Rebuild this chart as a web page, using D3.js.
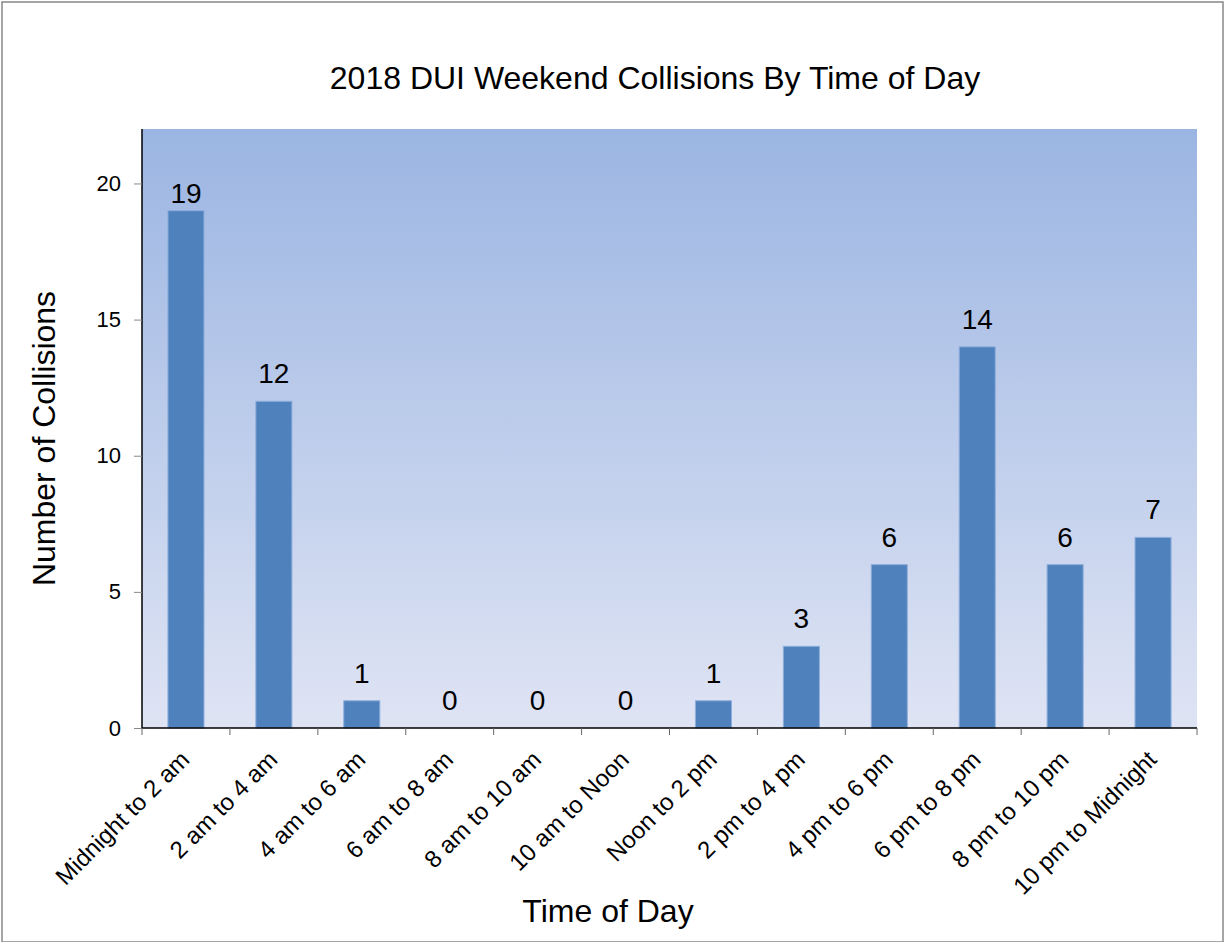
<!DOCTYPE html>
<html>
<head>
<meta charset="utf-8">
<script src="https://cdn.jsdelivr.net/npm/d3@7"></script>
<style>
  body { margin: 0; background: #fff; }
  text { font-family: "Liberation Sans", Arial, sans-serif; fill: #000; }
</style>
</head>
<body>
<div id="chart"></div>
<script>
// chart data
var categories = ["Midnight to 2 am", "2 am to 4 am", "4 am to 6 am", "6 am to 8 am",
  "8 am to 10 am", "10 am to Noon", "Noon to 2 pm", "2 pm to 4 pm",
  "4 pm to 6 pm", "6 pm to 8 pm", "8 pm to 10 pm", "10 pm to Midnight"];
var collisions = [19, 12, 1, 0, 0, 0, 1, 3, 6, 14, 6, 7];
var yTicks = [0, 5, 10, 15, 20];

var width = 1225, height = 942;
var margin = { top: 129, right: 28, bottom: 214, left: 142 };
var plotW = width - margin.left - margin.right;
var plotH = height - margin.top - margin.bottom;

var svg = d3.select("#chart").append("svg")
  .attr("width", width)
  .attr("height", height);

// outer frame
svg.append("rect")
  .attr("x", 2).attr("y", 2)
  .attr("width", width - 4).attr("height", height - 2)
  .attr("fill", "none")
  .attr("stroke", "#888")
  .attr("stroke-width", 1.5);

var defs = svg.append("defs");
var grad = defs.append("linearGradient")
  .attr("id", "bg").attr("x1", 0).attr("y1", 0).attr("x2", 0).attr("y2", 1);
grad.append("stop").attr("offset", "0%").attr("stop-color", "#9bb5e2");
grad.append("stop").attr("offset", "100%").attr("stop-color", "#dfe4f4");

var chartGroup = svg.append("g")
  .attr("transform", `translate(${margin.left}, ${margin.top})`);

chartGroup.append("rect")
  .attr("x", 0).attr("y", 0)
  .attr("width", plotW).attr("height", plotH)
  .attr("fill", "url(#bg)");

var x = d3.scaleBand()
  .domain(categories)
  .range([0, plotW])
  .paddingInner(0.59)
  .paddingOuter(0.295);

var y = d3.scaleLinear()
  .domain([0, 22])
  .range([plotH, 0]);

// bars
chartGroup.selectAll(".bar")
  .data(categories)
  .enter()
  .append("rect")
  .attr("class", "bar")
  .attr("x", d => x(d))
  .attr("y", (d, i) => y(collisions[i]))
  .attr("width", x.bandwidth())
  .attr("height", (d, i) => plotH - y(collisions[i]))
  .attr("fill", "#4f81bd")
  .attr("stroke", "#8eaedb")
  .attr("stroke-width", 1);

// value labels (kept below the top tick so the tallest one doesn't float up)
chartGroup.selectAll(".val")
  .data(categories)
  .enter()
  .append("text")
  .attr("class", "val")
  .attr("x", d => x(d) + x.bandwidth() / 2)
  .attr("y", (d, i) => Math.max(y(collisions[i]) - 18, y(20) + 20))
  .attr("text-anchor", "middle")
  .style("font-size", "28px")
  .text((d, i) => collisions[i]);

// y axis
var leftAxis = d3.axisLeft(y).tickValues(yTicks).tickSize(8).tickPadding(13);
var yAxisG = chartGroup.append("g").call(leftAxis);
yAxisG.select(".domain").attr("stroke", "#000").attr("stroke-width", 1.5)
  .attr("d", `M0,0V${plotH}`);
yAxisG.selectAll(".tick line").attr("stroke", "#888");
yAxisG.selectAll(".tick text").style("font-size", "22px")
  .style("font-family", "Liberation Sans, Arial, sans-serif");

// x axis with ticks on band edges
var edgeScale = d3.scaleLinear().domain([0, categories.length]).range([0, plotW]);
var xAxisG = chartGroup.append("g")
  .attr("transform", `translate(0, ${plotH})`);
xAxisG.append("line")
  .attr("x1", 0).attr("x2", plotW)
  .attr("stroke", "#000").attr("stroke-width", 1.5);
xAxisG.selectAll(".edge")
  .data(d3.range(categories.length + 1))
  .enter()
  .append("line")
  .attr("class", "edge")
  .attr("x1", d => edgeScale(d)).attr("x2", d => edgeScale(d))
  .attr("y1", 0).attr("y2", 7)
  .attr("stroke", "#666");

xAxisG.selectAll(".xlab")
  .data(categories)
  .enter()
  .append("text")
  .attr("class", "xlab")
  .attr("text-anchor", "end")
  .attr("transform", d => `translate(${x(d) + x.bandwidth() / 2 + 5}, 33) rotate(-45)`)
  .style("font-size", "24px")
  .text(d => d);

// title
svg.append("text")
  .attr("x", 655).attr("y", 89)
  .attr("text-anchor", "middle")
  .style("font-size", "32px")
  .text("2018 DUI Weekend Collisions By Time of Day");

// axis titles
svg.append("text")
  .attr("x", 608).attr("y", 922)
  .attr("text-anchor", "middle")
  .style("font-size", "32px")
  .text("Time of Day");

svg.append("text")
  .attr("transform", `translate(55, ${margin.top + plotH / 2 + 10}) rotate(-90)`)
  .attr("text-anchor", "middle")
  .style("font-size", "32px")
  .text("Number of Collisions");
</script>
</body>
</html>
